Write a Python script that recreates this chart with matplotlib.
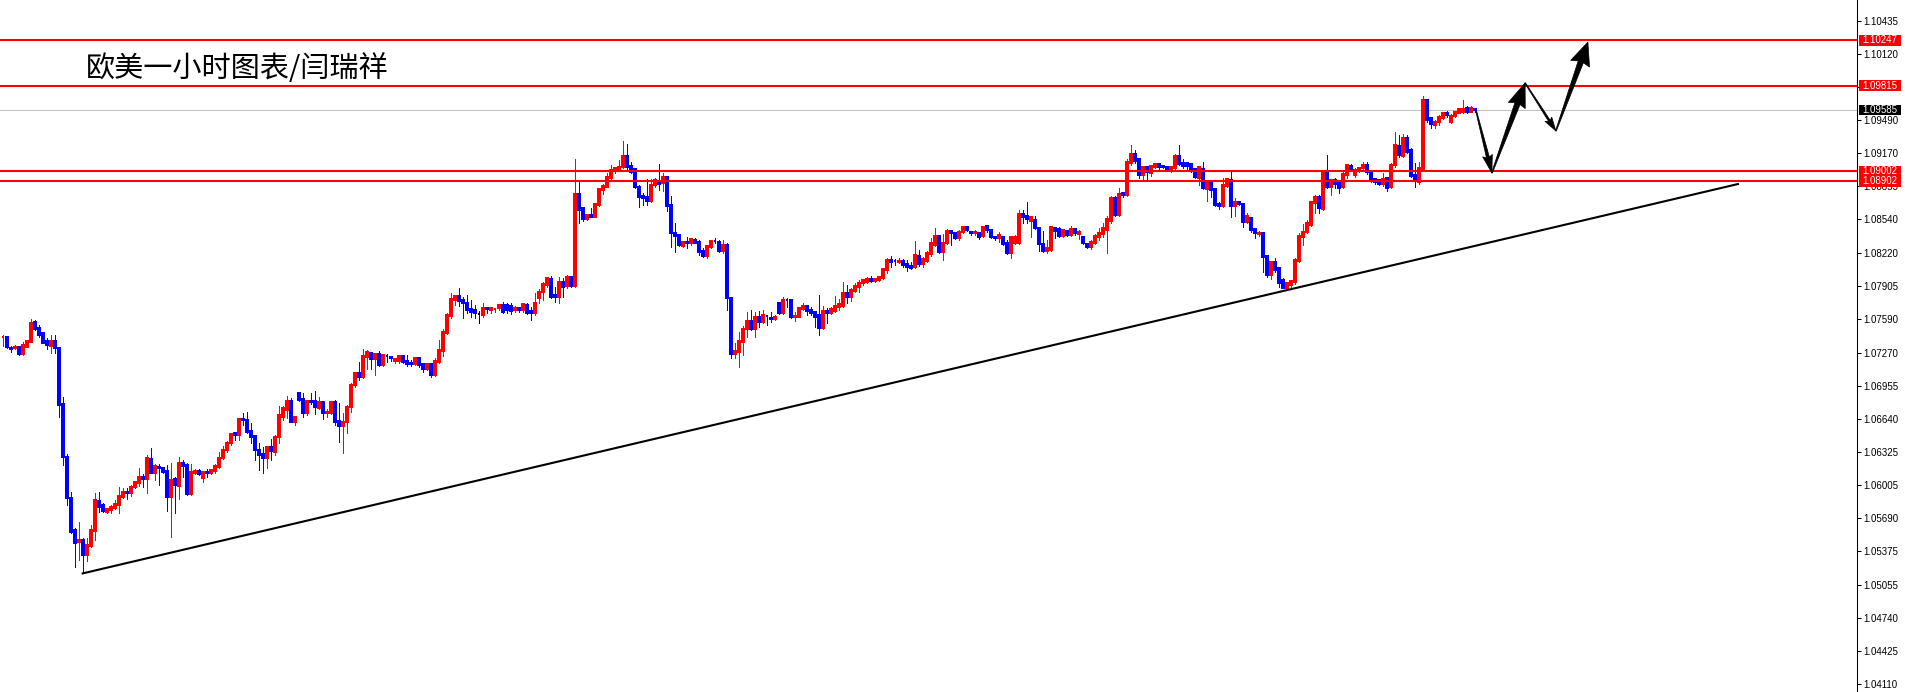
import numpy as np
import matplotlib
matplotlib.use('Agg')
import matplotlib.pyplot as plt
from matplotlib.patches import Polygon, Rectangle
from matplotlib.transforms import blended_transform_factory

plt.rcParams['font.family'] = ['Noto Sans CJK SC', 'DejaVu Sans']

# EURUSD H1 candles, prices in points (1 point = 0.00001)
opens = [
    107415, 107415, 107317, 107314, 107326, 107256, 107326, 107374, 107565, 107501,
    107453, 107383, 107336, 107380, 107310, 106776, 106277, 105879, 105577, 105460,
    105482, 105339, 105428, 105571, 105857, 105816, 105752, 105768, 105784, 105816,
    105895, 105940, 105927, 105991, 106029, 106086, 106061, 106251, 106124, 106181,
    106166, 106143, 105889, 106064, 106000, 106220, 106197, 105921, 106118, 106143,
    106070, 106130, 106118, 106143, 106181, 106261, 106340, 106404, 106499, 106484,
    106639, 106627, 106522, 106474, 106340, 106302, 106261, 106372, 106324, 106461,
    106658, 106722, 106811, 106611, 106881, 106824, 106696, 106808, 106811, 106738,
    106801, 106690, 106690, 106801, 106620, 106569, 106611, 106747, 106960, 107072,
    107033, 107230, 107262, 107205, 107256, 107151, 107240, 107227, 107192, 107192,
    107237, 107192, 107173, 107161, 107215, 107157, 107113, 107157, 107056, 107183,
    107288, 107459, 107618, 107771, 107809, 107771, 107739, 107682, 107676, 107641,
    107628, 107691, 107675, 107685, 107691, 107723, 107723, 107717, 107675, 107698,
    107675, 107723, 107666, 107644, 107787, 107850, 107914, 107968, 107818, 107803,
    107946, 107904, 107993, 107904, 108782, 108645, 108540, 108581, 108566, 108677,
    108820, 108852, 108931, 109004, 109017, 109036, 109144, 109049, 109017, 108852,
    108763, 108756, 108718, 108867, 108909, 108883, 108941, 108677, 108413, 108391,
    108286, 108327, 108311, 108343, 108327, 108241, 108190, 108279, 108337, 108327,
    108241, 108295, 107787, 107256, 107278, 107374, 107492, 107571, 107492, 107613,
    107565, 107622, 107603, 107587, 107746, 107651, 107775, 107772, 107606, 107613,
    107683, 107714, 107676, 107660, 107629, 107508, 107667, 107644, 107670, 107702,
    107714, 107842, 107797, 107857, 107899, 107931, 107946, 107975, 107956, 107962,
    107978, 108058, 108153, 108147, 108131, 108144, 108115, 108096, 108083, 108191,
    108115, 108147, 108210, 108296, 108382, 108233, 108312, 108433, 108414, 108360,
    108423, 108465, 108420, 108407, 108407, 108382, 108477, 108439, 108372, 108360,
    108368, 108318, 108222, 108311, 108311, 108591, 108572, 108527, 108534, 108454,
    108305, 108241, 108248, 108461, 108445, 108381, 108429, 108391, 108445, 108400,
    108375, 108305, 108279, 108311, 108368, 108400, 108438, 108527, 108740, 108581,
    108788, 108772, 109081, 109163, 109112, 108963, 109036, 108979, 109042, 109065,
    109045, 109036, 109010, 109026, 109144, 109074, 109074, 109065, 109017, 108931,
    109017, 108826, 108883, 108826, 108686, 108667, 108858, 108915, 108667, 108708,
    108686, 108518, 108556, 108448, 108397, 108406, 108190, 108009, 108136, 108073,
    107961, 107888, 107914, 107939, 108143, 108375, 108422, 108486, 108693, 108756,
    108638, 108979, 108851, 108915, 108883, 108851, 108963, 109052, 108963, 109001,
    109026, 109058, 108988, 108925, 108915, 108874, 108931, 108851, 109058, 109242,
    109147, 109312, 109201, 108963, 108899, 109020, 109678, 109503, 109440, 109465,
    109510, 109551, 109465, 109529, 109554, 109560, 109605, 109567, 109589,
]
highs = [
    107438, 107422, 107336, 107342, 107333, 107368, 107390, 107587, 107581, 107533,
    107469, 107406, 107438, 107438, 107320, 106849, 106302, 105943, 105593, 105657,
    105498, 105504, 105625, 105927, 105937, 105838, 105784, 105816, 105863, 105991,
    105975, 105975, 106007, 106038, 106166, 106111, 106293, 106363, 106207, 106207,
    106181, 106197, 106213, 106086, 106277, 106245, 106213, 106207, 106156, 106162,
    106143, 106156, 106156, 106207, 106325, 106379, 106429, 106499, 106515, 106643,
    106697, 106706, 106595, 106483, 106410, 106372, 106372, 106442, 106483, 106760,
    106760, 106855, 106833, 106665, 106887, 106881, 106817, 106881, 106906, 106849,
    106808, 106728, 106811, 106817, 106785, 106690, 106770, 106976, 107087, 107183,
    107300, 107294, 107269, 107262, 107285, 107253, 107253, 107237, 107215, 107246,
    107237, 107246, 107199, 107224, 107221, 107167, 107167, 107167, 107215, 107389,
    107491, 107650, 107841, 107819, 107882, 107803, 107819, 107771, 107723, 107669,
    107739, 107707, 107698, 107691, 107733, 107755, 107745, 107739, 107714, 107707,
    107745, 107739, 107707, 107834, 107872, 107946, 107993, 108003, 107898, 107993,
    107977, 108009, 108000, 109112, 108899, 108651, 108591, 108645, 108699, 108836,
    108877, 108985, 109058, 109036, 109106, 109287, 109258, 109090, 109026, 108867,
    108788, 108921, 108921, 108931, 109068, 108985, 108947, 108763, 108508, 108400,
    108337, 108375, 108359, 108359, 108343, 108264, 108295, 108343, 108359, 108343,
    108343, 108311, 107803, 107357, 107469, 107524, 107660, 107676, 107660, 107667,
    107676, 107629, 107660, 107629, 107756, 107803, 107788, 107778, 107660, 107708,
    107740, 107724, 107702, 107670, 107819, 107714, 107692, 107708, 107810, 107778,
    107946, 107915, 107883, 107937, 107962, 107969, 107994, 108000, 107978, 108000,
    108074, 108169, 108191, 108163, 108169, 108159, 108153, 108137, 108337, 108248,
    108185, 108242, 108360, 108455, 108392, 108401, 108446, 108439, 108423, 108439,
    108477, 108471, 108433, 108439, 108417, 108471, 108487, 108446, 108382, 108423,
    108381, 108343, 108375, 108391, 108629, 108629, 108708, 108572, 108572, 108464,
    108432, 108343, 108470, 108470, 108464, 108445, 108438, 108476, 108454, 108438,
    108381, 108318, 108343, 108400, 108454, 108502, 108572, 108763, 108763, 108836,
    108804, 109112, 109249, 109201, 109122, 109049, 109049, 109058, 109074, 109074,
    109055, 109049, 109042, 109163, 109249, 109112, 109081, 109081, 109026, 109042,
    109090, 108899, 108899, 108836, 108708, 108931, 108931, 108995, 108740, 108718,
    108699, 108604, 108565, 108460, 108429, 108413, 108200, 108143, 108168, 108079,
    107977, 107945, 107961, 108168, 108406, 108492, 108534, 108708, 108772, 108772,
    108988, 109153, 108925, 108931, 108899, 108988, 109064, 109064, 109026, 109042,
    109084, 109084, 109001, 108937, 108925, 108979, 108947, 109074, 109376, 109344,
    109351, 109344, 109217, 109074, 109090, 109716, 109688, 109510, 109487, 109535,
    109567, 109573, 109541, 109573, 109599, 109678, 109624, 109624, 109605,
]
lows = [
    107333, 107317, 107279, 107301, 107247, 107247, 107320, 107368, 107485, 107422,
    107358, 107301, 107269, 107263, 106658, 106197, 105816, 105545, 105227, 105291,
    105164, 105285, 105418, 105482, 105752, 105752, 105743, 105736, 105774, 105736,
    105879, 105876, 105902, 105981, 105997, 105991, 105927, 106118, 106054, 106007,
    106118, 105762, 105514, 105736, 105870, 106086, 105911, 105911, 106108, 106102,
    106038, 106086, 106108, 106118, 106166, 106251, 106325, 106388, 106436, 106436,
    106579, 106506, 106404, 106245, 106150, 106124, 106172, 106245, 106293, 106410,
    106626, 106642, 106604, 106579, 106811, 106658, 106674, 106779, 106684, 106728,
    106636, 106658, 106680, 106579, 106420, 106315, 106499, 106706, 106944, 107008,
    107024, 107113, 107110, 107056, 107141, 107141, 107183, 107192, 107167, 107173,
    107167, 107141, 107141, 107151, 107135, 107087, 107103, 107033, 107049, 107173,
    107237, 107447, 107602, 107723, 107717, 107596, 107644, 107612, 107596, 107555,
    107612, 107650, 107644, 107659, 107675, 107650, 107644, 107637, 107659, 107659,
    107659, 107637, 107580, 107628, 107745, 107771, 107898, 107787, 107749, 107745,
    107803, 107882, 107898, 107898, 108508, 108527, 108534, 108559, 108559, 108667,
    108782, 108845, 108915, 108985, 109010, 109026, 109004, 108979, 108836, 108654,
    108677, 108677, 108708, 108852, 108820, 108813, 108623, 108273, 108232, 108286,
    108279, 108264, 108295, 108311, 108200, 108184, 108168, 108264, 108311, 108232,
    108222, 107675, 107214, 107214, 107130, 107247, 107422, 107485, 107416, 107517,
    107549, 107533, 107565, 107581, 107638, 107638, 107708, 107603, 107575, 107606,
    107676, 107629, 107629, 107517, 107438, 107492, 107555, 107638, 107660, 107676,
    107702, 107746, 107765, 107851, 107851, 107915, 107931, 107946, 107946, 107956,
    107969, 108026, 108090, 108105, 108121, 108090, 108051, 108064, 108074, 108096,
    108090, 108137, 108191, 108287, 108217, 108153, 108306, 108296, 108350, 108344,
    108414, 108433, 108392, 108392, 108353, 108376, 108423, 108360, 108344, 108328,
    108295, 108209, 108168, 108305, 108305, 108508, 108508, 108375, 108445, 108241,
    108232, 108222, 108241, 108359, 108368, 108375, 108381, 108381, 108391, 108349,
    108305, 108264, 108254, 108305, 108343, 108375, 108216, 108508, 108572, 108572,
    108756, 108763, 109058, 109081, 108931, 108922, 108909, 108953, 109026, 109010,
    109026, 109004, 108995, 109017, 109058, 109026, 109017, 108995, 108931, 108867,
    108826, 108718, 108756, 108667, 108635, 108661, 108852, 108566, 108572, 108677,
    108470, 108502, 108422, 108359, 108384, 108041, 107993, 107971, 108041, 107898,
    107882, 107876, 107882, 107920, 108136, 108295, 108406, 108480, 108597, 108603,
    108629, 108836, 108772, 108836, 108788, 108842, 108931, 109001, 108947, 108988,
    109020, 108969, 108893, 108874, 108867, 108861, 108810, 108836, 109042, 109138,
    109138, 109169, 108947, 108851, 108874, 109010, 109471, 109414, 109414, 109440,
    109497, 109519, 109455, 109519, 109551, 109551, 109551, 109560, 109567,
]
closes = [
    107422, 107326, 107307, 107323, 107256, 107342, 107380, 107555, 107495, 107438,
    107364, 107342, 107380, 107310, 106770, 106277, 105879, 105561, 105456, 105482,
    105339, 105434, 105577, 105863, 105793, 105762, 105778, 105793, 105825, 105902,
    105943, 105927, 105991, 106032, 106080, 106061, 106261, 106124, 106188, 106169,
    106134, 105889, 106054, 106007, 106213, 106191, 105921, 106127, 106143, 106111,
    106127, 106121, 106150, 106191, 106261, 106340, 106410, 106493, 106487, 106633,
    106627, 106515, 106468, 106340, 106293, 106261, 106366, 106334, 106468, 106674,
    106738, 106811, 106611, 106658, 106817, 106696, 106811, 106795, 106747, 106801,
    106690, 106703, 106801, 106611, 106572, 106611, 106754, 106960, 107078, 107033,
    107237, 107278, 107205, 107256, 107151, 107246, 107237, 107221, 107205, 107237,
    107183, 107161, 107161, 107215, 107151, 107113, 107157, 107056, 107192, 107294,
    107469, 107628, 107777, 107809, 107761, 107739, 107676, 107660, 107644, 107641,
    107691, 107682, 107691, 107688, 107723, 107659, 107675, 107669, 107698, 107675,
    107733, 107644, 107650, 107739, 107850, 107923, 107977, 107803, 107803, 107946,
    107898, 107993, 107904, 108782, 108629, 108540, 108581, 108566, 108686, 108826,
    108858, 108941, 109010, 109026, 109042, 109144, 109042, 108995, 108845, 108756,
    108740, 108718, 108867, 108915, 108877, 108941, 108667, 108406, 108381, 108295,
    108327, 108314, 108349, 108317, 108232, 108190, 108286, 108333, 108330, 108241,
    108295, 107787, 107256, 107288, 107383, 107495, 107571, 107492, 107613, 107565,
    107629, 107616, 107587, 107606, 107644, 107772, 107768, 107606, 107619, 107698,
    107714, 107670, 107644, 107613, 107508, 107667, 107644, 107683, 107714, 107733,
    107842, 107803, 107867, 107905, 107937, 107962, 107975, 107956, 107969, 107994,
    108064, 108153, 108137, 108140, 108147, 108105, 108083, 108074, 108201, 108115,
    108159, 108223, 108312, 108382, 108233, 108318, 108433, 108407, 108360, 108423,
    108465, 108439, 108411, 108423, 108376, 108465, 108439, 108369, 108366, 108392,
    108305, 108222, 108368, 108375, 108591, 108559, 108540, 108559, 108454, 108305,
    108241, 108264, 108464, 108432, 108381, 108438, 108391, 108445, 108406, 108422,
    108311, 108279, 108327, 108381, 108406, 108454, 108540, 108740, 108581, 108782,
    108772, 109090, 109163, 109100, 108963, 109036, 108995, 109049, 109065, 109036,
    109039, 109010, 109036, 109144, 109065, 109049, 109052, 109010, 108941, 109036,
    108836, 108883, 108820, 108677, 108667, 108867, 108922, 108667, 108708, 108686,
    108518, 108572, 108438, 108406, 108413, 108184, 108009, 108136, 108057, 107930,
    107888, 107930, 107952, 108152, 108384, 108422, 108502, 108702, 108756, 108651,
    108979, 108851, 108915, 108874, 108836, 108969, 109058, 109010, 109010, 109033,
    109058, 108988, 108905, 108893, 108874, 108925, 108842, 109058, 109249, 109153,
    109312, 109185, 108956, 108915, 109026, 109678, 109487, 109446, 109471, 109519,
    109557, 109535, 109529, 109567, 109592, 109592, 109560, 109605, 109583,
]

# price scale labels on the right
tick_vals = [1.10435, 1.10120, 1.09805, 1.09490, 1.09170, 1.08855, 1.08540,
             1.08220, 1.07905, 1.07590, 1.07270, 1.06955, 1.06640, 1.06325,
             1.06005, 1.05690, 1.05375, 1.05055, 1.04740, 1.04425, 1.04110]

# support / resistance levels and the current bid
red_levels = [1.10247, 1.09815, 1.09002, 1.08902]
bid_level = 1.09585

# trendline (bar index, price)
trend_x = [20, 433.8]
trend_y = [1.05164, 1.08877]

# projected path drawn with arrows (bar index, price)
path_x = [368.3, 372.3, 380.6, 388.3, 396.3]
path_y = [1.09583, 1.08982, 1.09841, 1.09383, 1.10231]

title = '欧美一小时图表/闫瑞祥'

W, H = 1905, 692
AX_W = 1857
fig = plt.figure(figsize=(W / 100, H / 100), dpi=100, facecolor='white')
ax = fig.add_axes([0, 0, AX_W / W, 1])
ax.set_facecolor('white')

o = np.array(opens) * 1e-5
h = np.array(highs) * 1e-5
l = np.array(lows) * 1e-5
c = np.array(closes) * 1e-5
idx = np.arange(len(o))
cols = np.where(c > o + 1e-9, '#FF0000', np.where(c < o - 1e-9, '#0000FF', '#000000'))

ax.vlines(idx, l, h, colors=cols, linewidth=0.72, antialiased=False, zorder=3)
ax.bar(idx, np.abs(c - o), bottom=np.minimum(o, c), width=0.55, color=cols,
       edgecolor=cols, linewidth=0.35, antialiased=False, zorder=4)

ax.set_xlim(-0.675, (AX_W - 2.7) / 4)
ax.set_ylim(1.04033, 1.10632)

# horizontal lines
for lv in red_levels:
    ax.axhline(lv, color='#FF0000', linewidth=1.5, zorder=5)
ax.axhline(bid_level, color='#C0C0C0', linewidth=0.75, zorder=2)

ax.plot(trend_x, trend_y, color='black', linewidth=1.5, zorder=5)

# axes styling
for s in ['top', 'left', 'bottom']:
    ax.spines[s].set_visible(False)
ax.spines['right'].set_color('black')
ax.spines['right'].set_linewidth(0.75)
ax.set_xticks([])
ax.yaxis.tick_right()
ax.set_yticks(tick_vals)
ax.set_yticklabels([f'{v:.5f}' for v in tick_vals])
ax.tick_params(axis='y', direction='out', length=3, width=0.75, pad=1.5,
               labelsize=7, colors='black')
for lbl in ax.get_yticklabels():
    lbl.set_family('Liberation Sans')

# price boxes on the scale
trans = blended_transform_factory(ax.transAxes, ax.transData)
box_h = 0.00100
for lv, fc in [(v, '#FF0000') for v in red_levels] + [(bid_level, '#000000')]:
    ax.add_patch(Rectangle((1859 / AX_W, lv - box_h / 2), 42 / AX_W, box_h,
                           transform=trans, facecolor=fc, edgecolor='none',
                           clip_on=False, zorder=10))
    ax.text(1862.5 / AX_W, lv, f'{lv:.5f}', transform=trans, color='white',
            fontsize=7, family='Liberation Sans', ha='left', va='center',
            clip_on=False, zorder=11)

# arrows: tapered shaft with a triangular head, built in pixel space
def add_arrow(p0, p1, head_len, head_w, shaft_w):
    a = ax.transData.transform(p0)
    b = ax.transData.transform(p1)
    d = b - a
    u = d / np.hypot(*d)
    n = np.array([-u[1], u[0]])
    base = b - u * head_len
    pts = [a + n * 0.4, base + n * shaft_w / 2, base + n * head_w / 2 - u * 2, b,
           base - n * head_w / 2 - u * 2, base - n * shaft_w / 2, a - n * 0.4]
    pts = ax.transData.inverted().transform(np.array(pts))
    ax.add_patch(Polygon(pts, closed=True, facecolor='black', edgecolor='black',
                         linewidth=0.5, zorder=8))

sizes = [(16, 10, 3), (22, 18, 5.5), (12, 8, 2), (21, 20, 5.5)]
for i, (hl, hw, sw) in enumerate(sizes):
    add_arrow((path_x[i], path_y[i]), (path_x[i + 1], path_y[i + 1]), hl, hw, sw)

fig.text(86 / W, 1 - 69 / H, title, fontsize=21, ha='left', va='center', color='black')

fig.savefig('out.png', dpi=100, facecolor='white')
